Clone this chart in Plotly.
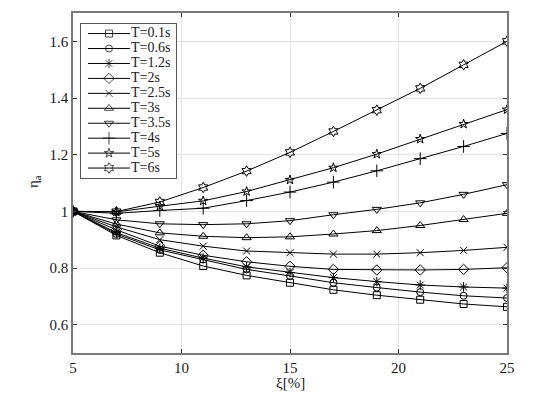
import plotly.graph_objects as go

xi = [5, 7, 9, 11, 13, 15, 17, 19, 21, 23, 25]
periods = ["T=0.1s", "T=0.6s", "T=1.2s", "T=2s", "T=2.5s", "T=3s", "T=3.5s", "T=4s", "T=5s", "T=6s"]
eta_T01 = [1.0, 0.915, 0.854, 0.807, 0.774, 0.748, 0.723, 0.704, 0.688, 0.673, 0.663]
eta_T06 = [1.0, 0.920, 0.864, 0.830, 0.795, 0.772, 0.748, 0.731, 0.715, 0.702, 0.694]
eta_T12 = [1.0, 0.925, 0.870, 0.835, 0.804, 0.784, 0.766, 0.752, 0.740, 0.733, 0.729]
eta_T2 = [1.0, 0.935, 0.877, 0.845, 0.822, 0.806, 0.795, 0.793, 0.793, 0.795, 0.801]
eta_T25 = [1.0, 0.945, 0.900, 0.877, 0.860, 0.854, 0.849, 0.849, 0.854, 0.862, 0.873]
eta_T3 = [1.0, 0.955, 0.924, 0.912, 0.907, 0.910, 0.920, 0.932, 0.950, 0.971, 0.993]
eta_T35 = [1.0, 0.970, 0.956, 0.953, 0.956, 0.967, 0.988, 1.007, 1.030, 1.060, 1.094]
eta_T4 = [1.0, 0.993, 1.003, 1.011, 1.038, 1.068, 1.103, 1.143, 1.186, 1.229, 1.275]
eta_T5 = [1.0, 0.998, 1.018, 1.037, 1.070, 1.111, 1.154, 1.202, 1.255, 1.308, 1.359]
eta_T6 = [1.0, 0.999, 1.033, 1.084, 1.142, 1.208, 1.282, 1.357, 1.434, 1.517, 1.600]
series = [eta_T01, eta_T06, eta_T12, eta_T2, eta_T25, eta_T3, eta_T35, eta_T4, eta_T5, eta_T6]

x_ticks = [5, 10, 15, 20, 25]
y_ticks = [0.6, 0.8, 1.0, 1.2, 1.4, 1.6]
y_tick_text = ["0.6", "0.8", "1", "1.2", "1.4", "1.6"]

symbols = ["square-open", "circle-open", "asterisk-open", "diamond-open", "x-thin-open",
           "triangle-up-open", "triangle-down-open", "cross-thin-open", "star-open", "hexagram-open"]
sizes = [7, 7, 8, 8, 7, 8, 8, 9, 7, 8]

FONT = "Liberation Serif, Times New Roman, Times, serif"
INK = "#1a1a1a"
AX = "#7a7a7a"
TICK_SIZE = 15
LEG_SIZE = 14

# page body has an 8px margin: express target pixel positions relative to the figure
OFF = 8
FW, FH = 560 - OFF, 399 - OFF
L, T, W, H = 73 - OFF, 11 - OFF, 434, 342

fig = go.Figure()
for name, ys, sym, sz in zip(periods, series, symbols, sizes):
    fig.add_trace(go.Scatter(
        x=xi, y=ys, mode="lines+markers", name=name, showlegend=False,
        line=dict(color="black", width=1),
        marker=dict(symbol=sym, size=sz, color="black", line=dict(color="black", width=1)),
    ))

# custom legend drawn in an inset subplot (pixel-like coordinates)
leg_y = [9.7 + 15.03 * i for i in range(len(periods))]
for name, sym, sz, ly in zip(periods, symbols, sizes, leg_y):
    fig.add_trace(go.Scatter(
        x=[7, 28, 49], y=[ly, ly, ly], mode="lines+markers", showlegend=False,
        xaxis="x2", yaxis="y2", hoverinfo="skip",
        line=dict(color="black", width=1),
        marker=dict(symbol=sym, size=[0, sz, 0], color="black", line=dict(color="black", width=1)),
    ))
fig.add_trace(go.Scatter(
    x=[50] * len(periods), y=leg_y, mode="text", text=periods, textposition="middle right",
    textfont=dict(family=FONT, size=LEG_SIZE, color=INK), showlegend=False,
    xaxis="x2", yaxis="y2", hoverinfo="skip",
))

fig.update_layout(
    width=FW, height=FH,
    margin=dict(l=L, r=FW - L - W, t=T, b=FH - T - H),
    paper_bgcolor="white", plot_bgcolor="white",
    font=dict(family=FONT, size=TICK_SIZE, color=INK),
    xaxis=dict(
        range=[5, 25], tickvals=x_ticks, ticks="inside", ticklen=4, tickcolor="#333",
        showline=True, linecolor=AX, linewidth=1.5, mirror="ticks",
        showgrid=True, gridcolor="#e3e3e3", gridwidth=1, zeroline=False,
        tickfont=dict(family=FONT, size=TICK_SIZE, color=INK),
    ),
    yaxis=dict(
        range=[0.5, 1.7], tickvals=y_ticks, ticktext=y_tick_text, ticks="inside", ticklen=4,
        tickcolor="#333", showline=True, linecolor=AX, linewidth=1.5, mirror="ticks",
        showgrid=True, gridcolor="#e3e3e3", gridwidth=1, zeroline=False,
        tickfont=dict(family=FONT, size=TICK_SIZE, color=INK),
    ),
    xaxis2=dict(
        domain=[(81 - 73) / W, (176 - 73) / W], range=[0, 95], anchor="y2",
        showgrid=False, zeroline=False, showticklabels=False, ticks="",
        showline=True, linecolor="#555", linewidth=1, mirror=True, fixedrange=True,
    ),
    yaxis2=dict(
        domain=[1 - (177 - 11) / H, 1 - (22 - 11) / H], range=[155, 0], anchor="x2",
        showgrid=False, zeroline=False, showticklabels=False, ticks="",
        showline=True, linecolor="#555", linewidth=1, mirror=True, fixedrange=True,
    ),
    annotations=[
        dict(text="η<sub>a</sub>", xref="paper", yref="paper", x=0, y=1 - (181 - 11) / H,
             xshift=34 - 73, xanchor="center", yanchor="middle", textangle=-90,
             showarrow=False, font=dict(family=FONT, size=TICK_SIZE, color=INK)),
        dict(text="ξ[%]", xref="paper", yref="paper", x=(290 - 73) / W, y=0,
             yshift=-30, xanchor="center", yanchor="middle",
             showarrow=False, font=dict(family=FONT, size=TICK_SIZE, color=INK)),
    ],
)

fig.write_html("out.html")
